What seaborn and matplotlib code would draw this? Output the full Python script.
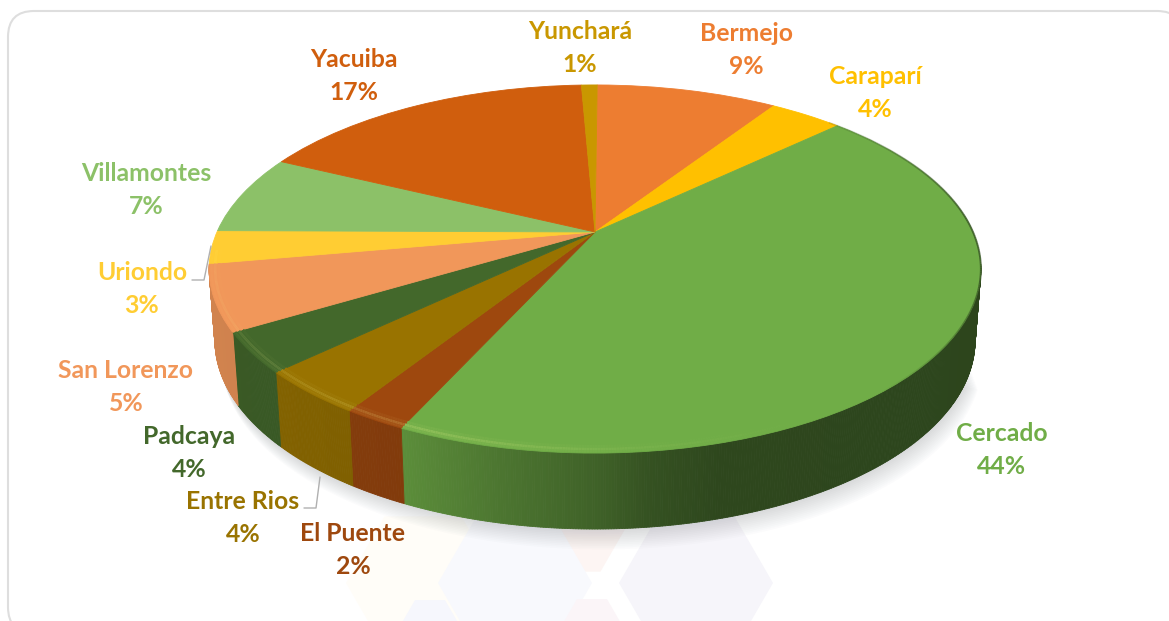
import numpy as np
import matplotlib
matplotlib.use("Agg")
import matplotlib.pyplot as plt
import seaborn as sns
from matplotlib.transforms import Transform
from matplotlib.patches import FancyBboxPatch, Polygon
from matplotlib.collections import PolyCollection, LineCollection

# --- data -------------------------------------------------------------
municipios = ["Bermejo", "Caraparí", "Cercado", "El Puente", "Entre Rios", "Padcaya",
              "San Lorenzo", "Uriondo", "Villamontes", "Yacuiba", "Yunchará"]
etiquetas_pct = ["9%", "4%", "44%", "2%", "4%", "4%", "5%", "3%", "7%", "17%", "1%"]
porcentajes = [9.2, 3.7, 43.9, 2.2, 3.9, 3.5, 5.75, 2.9, 7.0, 17.2, 0.8]
colores = ["#ED7D31", "#FFC000", "#70AD47", "#9E480E", "#997300", "#43682B",
           "#F1975A", "#FFCD33", "#8CC168", "#D05E0D", "#C99700"]
etiqueta_x = [746, 875, 1002, 353, 243, 189, 126, 142, 146, 354, 580]
etiqueta_y = [50, 93, 450, 550, 518, 453, 387, 289, 190, 76, 48]

# --- style ------------------------------------------------------------
sns.set_theme(style="white")
plt.rcParams["font.family"] = ["Lato", "DejaVu Sans"]
paleta = sns.color_palette(colores)

W, H = 1169, 621
CX, CY, RX, CP, K = 595.0, 232.0, 378.0, 176.6, 0.201
TAPER = 0.985
START = 89.6


class Perspectiva(Transform):
    input_dims = output_dims = 2

    def transform_non_affine(self, values):
        v = np.asarray(values, float)
        d = 1 + K * v[:, 1]
        return np.column_stack([CX + RX * v[:, 0] / d, CY - CP * v[:, 1] / d])


persp = Perspectiva()


def top(theta, r=1.0):
    return persp.transform_non_affine(np.column_stack([r * np.cos(theta), r * np.sin(theta)]))


def bottom(theta):
    p = top(theta)
    return np.column_stack([CX + (p[:, 0] - CX) * TAPER, p[:, 1] + 70 - 6 * np.sin(theta)])


def shade(x):
    return np.interp(x, [200, 400, 500, 600, 650, 720, 1000],
                     [.87, .82, .68, .56, .47, .41, .40])


fig = plt.figure(figsize=(W / 100, H / 100), dpi=100, facecolor="white")
ax = fig.add_axes([0, 0, 1, 1])

# top faces: a real pie chart pushed through the perspective transform
wedges, _ = ax.pie(porcentajes, colors=paleta, startangle=START, counterclock=False,
                   radius=1, wedgeprops=dict(linewidth=0.6))
ax.set_aspect("auto")
ax.set_xlim(0, W)
ax.set_ylim(H, 0)
ax.axis("off")
for w, c in zip(wedges, paleta):
    w.set_edgecolor(c)
    w.set_transform(persp + ax.transData)
    w.set_zorder(6)

# frame
ax.add_patch(FancyBboxPatch((8, 11), 1175, 622, boxstyle="round,pad=0,rounding_size=26",
                            fc="white", ec="#dedede", lw=1.5, zorder=0))


# faint watermark hexagons
def hexagono(cx, cy, r):
    a = np.radians(np.arange(0, 360, 60))
    return np.column_stack([cx + r * np.cos(a), cy + r * np.sin(a)])


hexes = [(423, 583, 77, "#fffdf8"), (562, 505, 77, "#fdf5f3"), (515, 583, 77, "#f8f9fd"),
         (696, 583, 77, "#f6f5fa"), (592, 625, 30, "#fbf5f8"), (430, 626, 30, "#f6f7fd")]
for cx_, cy_, r_, col in hexes:
    ax.add_patch(Polygon(hexagono(cx_, cy_, r_), fc=col, ec="none", zorder=1))

# soft shadow under the body
ang = np.linspace(np.radians(-20), np.radians(-200), 300)
base = bottom(ang)
for i in range(1, 13):
    p = base + np.array([i * 0.6, i * 1.7])
    ax.fill(p[:, 0], p[:, 1], color="#8a8f96", alpha=0.028, lw=0, zorder=2)

# side walls, one thin strip per small step, shaded by screen position
acum = np.concatenate([[0], np.cumsum(porcentajes)]) / np.sum(porcentajes) * 360
for a0, a1, c in zip(acum[:-1], acum[1:], paleta):
    t0, t1 = np.radians(START - a0), np.radians(START - a1)
    ts = np.linspace(t0, t1, max(3, int(abs(a1 - a0) * 3)))
    ts = ts[np.sin(ts) < -0.17]
    if len(ts) >= 2:
        up, lo = top(ts), bottom(ts)
        polys, cols = [], []
        for i in range(len(ts) - 1):
            polys.append([up[i], up[i + 1], lo[i + 1], lo[i]])
            cols.append(np.array(c) * shade(0.5 * (up[i, 0] + up[i + 1, 0])))
        ax.add_collection(PolyCollection(polys, facecolors=cols, edgecolors=cols,
                                         linewidths=0.6, zorder=4))

    # soft bevel on the front rim of the top face
    ts2 = np.linspace(t0, t1, max(3, int(abs(a1 - a0) * 3)))
    for r, lw, gain in [(0.994, 1.6, .08), (0.985, 2.0, .20), (0.975, 2.0, .05)]:
        q = top(ts2, r)
        segs = np.stack([q[:-1], q[1:]], axis=1)
        seg_t = 0.5 * (ts2[:-1] + ts2[1:])
        mx = 0.5 * (q[:-1, 0] + q[1:, 0])
        hi = np.interp(mx, [205, 260, 420, 640, 800], [.3, .6, 1, .25, 0])
        hi = np.where(np.sin(seg_t) < -0.1, hi, 0)
        lc = []
        for h in hi:
            rgb = np.array(c) + (np.array([1, 1, .6]) - np.array(c)) * gain * h
            lc.append(np.clip(rgb, 0, 1).tolist() + [float(h > 0)])
        ax.add_collection(LineCollection(segs, colors=lc, linewidths=lw, capstyle="butt", zorder=7))

# dark edge on the right of the rim, fading at both ends
ts = np.linspace(np.radians(45), np.radians(-50), 150)
q = top(ts)
segs = np.stack([q[:-1], q[1:]], axis=1)
deg = np.degrees(0.5 * (ts[:-1] + ts[1:]))
al = np.interp(deg, [-50, -15, 5, 45], [0, .7, .7, .15])
ax.add_collection(LineCollection(segs, colors=[(.176, .275, .118, a) for a in al],
                                 linewidths=1.4, capstyle="butt", zorder=7))

# watermark tint over the body (only the cream hexagon shows through)
ax.add_patch(Polygon(hexagono(*hexes[0][:3]), fc="white", alpha=0.025, ec="none", zorder=5))

# labels
for n, v, x, y, c in zip(municipios, etiquetas_pct, etiqueta_x, etiqueta_y, paleta):
    ax.text(x, y, f"{n}\n{v}", ha="center", va="center", color=c, fontsize=17.8,
            fontweight="bold", linespacing=1.55, zorder=10)

# leader lines
ax.plot([192, 204, 211], [280, 280, 246], color="#b0b0b0", lw=1, zorder=9)
ax.plot([304, 316, 320], [508, 508, 477], color="#b0b0b0", lw=1, zorder=9)

fig.savefig("out.png", dpi=100, facecolor="white")
